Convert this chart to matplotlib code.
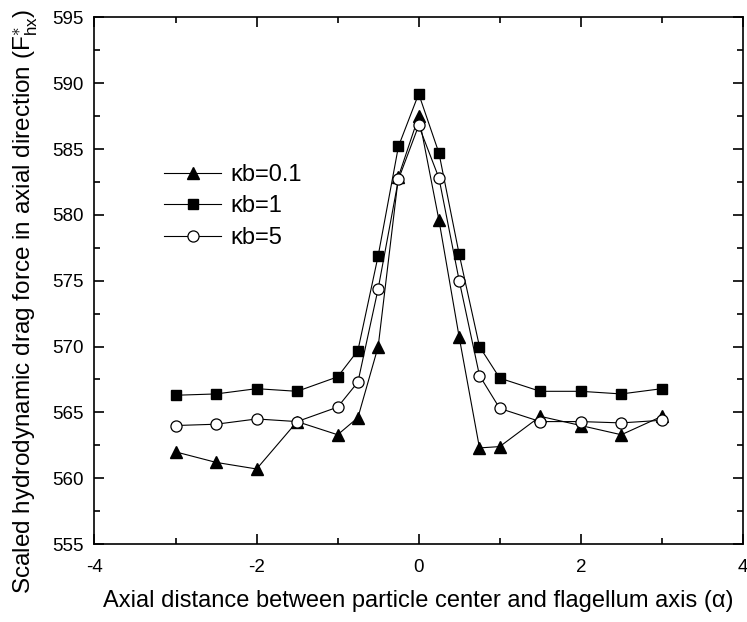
import matplotlib
matplotlib.use("Agg")
import matplotlib.pyplot as plt
from matplotlib.ticker import MultipleLocator

plt.rcParams['font.family'] = ['Liberation Sans', 'DejaVu Sans']
plt.rcParams['mathtext.fontset'] = 'custom'
plt.rcParams['mathtext.rm'] = 'Liberation Sans'
plt.rcParams['mathtext.it'] = 'Liberation Sans'
plt.rcParams['axes.unicode_minus'] = False

alpha = [-3, -2.5, -2, -1.5, -1, -0.75, -0.5, -0.25, 0, 0.25, 0.5, 0.75, 1, 1.5, 2, 2.5, 3]

drag_kb01 = [562.0, 561.2, 560.7, 564.3, 563.3, 564.6, 570.0, 582.9, 587.5,
             579.6, 570.7, 562.3, 562.4, 564.7, 564.0, 563.3, 564.7]
drag_kb1 = [566.3, 566.4, 566.8, 566.6, 567.7, 569.7, 576.9, 585.2, 589.2,
            584.7, 577.0, 570.0, 567.6, 566.6, 566.6, 566.4, 566.8]
drag_kb5 = [564.0, 564.1, 564.5, 564.3, 565.4, 567.3, 574.4, 582.7, 586.8,
            582.8, 575.0, 567.8, 565.3, 564.3, 564.3, 564.2, 564.4]

fig = plt.figure(figsize=(7.47, 6.22), dpi=100)
ax = fig.add_axes([0.1265, 0.1254, 0.868, 0.8465])

lw = 0.8
ax.plot(alpha, drag_kb01, color='black', lw=lw, marker='^', ms=8,
        mfc='black', mec='black', label='κb=0.1')
ax.plot(alpha, drag_kb1, color='black', lw=lw, marker='s', ms=7,
        mfc='black', mec='black', label='κb=1')
ax.plot(alpha, drag_kb5, color='black', lw=lw, marker='o', ms=8,
        mfc='white', mec='black', mew=0.9, label='κb=5')

ax.set_xlim(-4, 4)
ax.set_ylim(555, 595)
ax.xaxis.set_major_locator(MultipleLocator(2))
ax.xaxis.set_minor_locator(MultipleLocator(1))
ax.yaxis.set_major_locator(MultipleLocator(5))
ax.yaxis.set_minor_locator(MultipleLocator(2.5))
ax.tick_params(which='both', direction='in', top=True, right=True,
               labelsize=13.5, width=1.2)
ax.tick_params(which='major', length=7)
ax.tick_params(which='minor', length=4)
ax.tick_params(axis='x', which='major', pad=11)
ax.tick_params(axis='y', which='major', pad=8)
for s in ax.spines.values():
    s.set_linewidth(1.2)

ax.set_xlabel('Axial distance between particle center and flagellum axis (α)',
              fontsize=17, labelpad=10)
ax.set_ylabel(r'Scaled hydrodynamic drag force in axial direction (F$_{hx}^{\ast}$)',
              fontsize=17.5)
ax.yaxis.set_label_coords(-0.085, 0.46)

ax.legend(loc='upper left', bbox_to_anchor=(0.075, 0.762), frameon=False,
          fontsize=17, handlelength=2.4, handletextpad=0.4, labelspacing=0.4)

fig.savefig('out.png', dpi=100)
